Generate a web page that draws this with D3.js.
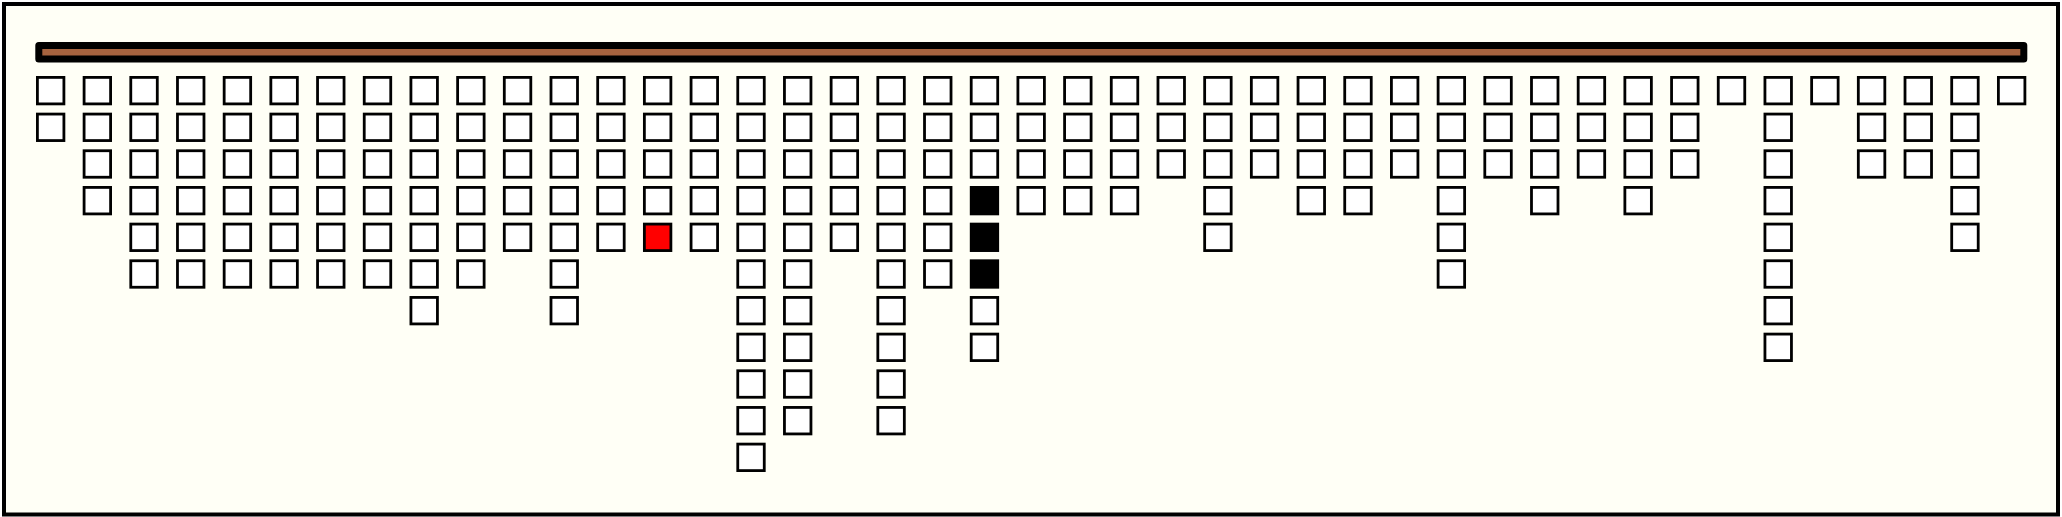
<!DOCTYPE html>
<html>
<head>
<meta charset="utf-8">
<script src="https://cdn.jsdelivr.net/npm/d3@7"></script>
<style>
  html, body { margin: 0; padding: 0; background: #ffffff; }
  svg { display: block; }
</style>
</head>
<body>
<script>
// ---- data ----
const columns = d3.range(43);
const counts = [2,4,6,6,6,6,6,6,7,6,5,7,5,5,5,11,10,5,10,6,8,4,4,4,3,5,3,4,4,3,6,3,4,3,4,3,1,8,1,3,3,5,1];
const redCells = [{col: 13, row: 4}];
const blackCells = [{col: 20, row: 3}, {col: 20, row: 4}, {col: 20, row: 5}];

// ---- layout ----
const W = 2062, H = 517;
const bg = "#fffff6", brown = "#a6633f";
const maxRows = d3.max(counts);

const svg = d3.select("body").append("svg").attr("width", W).attr("height", H);

// frame
svg.append("rect").attr("x", 4).attr("y", 4).attr("width", 2054).attr("height", 510.5)
  .attr("fill", bg).attr("stroke", "#000").attr("stroke-width", 4);

const x = d3.scaleBand().domain(columns).range([36, 2026.3]).paddingInner(0.3723).paddingOuter(0);
const y = d3.scaleBand().domain(d3.range(maxRows)).range([76, 472]).paddingInner(0.201).paddingOuter(0);

// top rail
const railX0 = x.range()[0] - 0.7, railX1 = x.range()[1] + 1;
svg.append("rect")
  .attr("x", railX0 + 3.5).attr("y", 45.5)
  .attr("width", railX1 - railX0 - 7).attr("height", 13.5)
  .attr("fill", brown).attr("stroke", "#000").attr("stroke-width", 7)
  .attr("stroke-linejoin", "round");

// cells
const cells = [];
columns.forEach((c, i) => {
  for (let r = 0; r < counts[i]; r++) {
    let fill = "#ffffff";
    if (redCells.some(d => d.col === c && d.row === r)) fill = "#ff0000";
    if (blackCells.some(d => d.col === c && d.row === r)) fill = "#000000";
    cells.push({col: c, row: r, fill});
  }
});

const sw = 2.8;
svg.append("g").selectAll("rect").data(cells).join("rect")
  .attr("x", d => x(d.col) + sw / 2)
  .attr("y", d => y(d.row) + sw / 2)
  .attr("width", x.bandwidth() - sw)
  .attr("height", y.bandwidth() - sw)
  .attr("fill", d => d.fill)
  .attr("stroke", "#000")
  .attr("stroke-width", sw);
</script>
</body>
</html>
